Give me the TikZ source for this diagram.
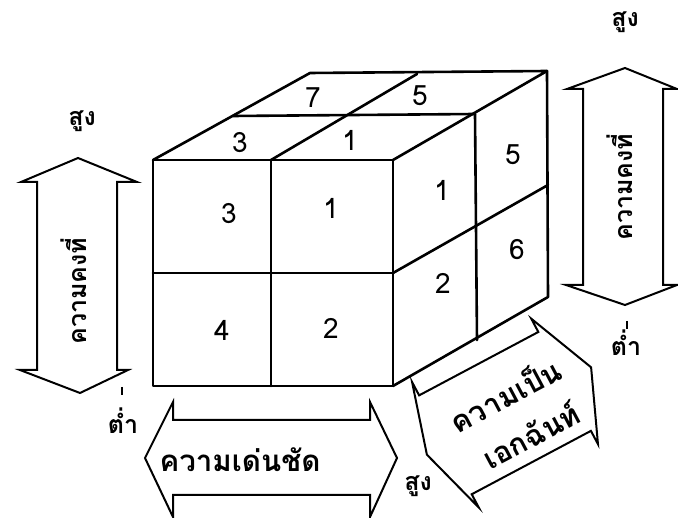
\documentclass[tikz,border=0pt]{standalone}
\usepackage{fontspec}
\newfontfamily\thaifont[Script=Thai]{Loma}

\begin{document}
\begin{tikzpicture}[x=1pt,y=-1pt,
	edge/.style={line width=2.6pt,line join=round,line cap=round},
	bigarrow/.style={line width=2pt,line join=miter},
	num/.style={font=\thaifont\fontsize{28}{29}\selectfont},
	axistext/.style={font=\thaifont\bfseries\fontsize{25}{26}\selectfont},
	widetext/.style={font=\thaifont\bfseries\fontsize{29.5}{30}\selectfont},
	endtext/.style={font=\thaifont\bfseries\fontsize{25}{26}\selectfont}]
	\useasboundingbox (0,0) rectangle (678,518);

	% front face
	\draw[edge] (153,160) rectangle (393,386);
	\draw[edge] (271,160) -- (271,386);
	\draw[edge] (153,273) -- (393,273);
	% top face
	\draw[edge] (153,160) -- (310,73) -- (547,71) -- (393,160);
	\draw[edge] (233,116) -- (475,114);
	\draw[edge] (271,160) -- (417,74);
	% right face
	\draw[edge] (547,71) -- (548,297) -- (393,386);
	\draw[edge] (475,114) -- (477,340);
	\draw[edge] (393,273) -- (548,185);

	% cell values
	\node[num] (f11) at (229,214) {3};
	\node[num] (f12) at (331,208) {1};
	\node[num] (f21) at (222,330) {4};
	\node[num] (f22) at (331,328) {2};
	\node[num] (t11) at (240,143) {3};
	\node[num] (t12) at (350,140) {1};
	\node[num] (t21) at (313,98) {7};
	\node[num] (t22) at (420,96) {5};
	\node[num] (r11) at (442,190) {1};
	\node[num] (r21) at (443,283) {2};
	\node[num] (r12) at (513,155) {5};
	\node[num] (r22) at (517,250) {6};

	% consistency (left)
	\draw[bigarrow] (78,158) -- (137,182) -- (117,182) -- (117,370) -- (128,370)
		-- (80,393) -- (20,370) -- (37,370) -- (37,182) -- (21,182) -- cycle;
	\node[axistext,rotate=90] (consL) at (74,291) {ความคงที่};
	\node[endtext] (hiL) at (82,121) {สูง};
	\node[endtext] (loL) at (123,421) {ต่ำ};
	\draw[line width=2pt] (122,387) -- (122,395);

	% consistency (right)
	\draw[bigarrow] (625,68) -- (677,89) -- (663,89) -- (663,285) -- (677,285)
		-- (625,305) -- (566,285) -- (583,285) -- (583,89) -- (567,89) -- cycle;
	\node[axistext,rotate=90] (consR) at (620,187) {ความคงที่};
	\node[endtext] (hiR) at (625,22) {สูง};
	\node[endtext] (loR) at (626,343) {ต่ำ};
	\draw[line width=2pt] (627,321) -- (627,329);

	% distinctiveness (bottom)
	\draw[bigarrow] (145,458) -- (173,402) -- (173,420) -- (370,420) -- (370,402)
		-- (397,458) -- (370,517) -- (370,495) -- (173,495) -- (173,517) -- cycle;
	\node[widetext] (dist) at (240,460) {ความเด่นชัด};
	\node[endtext] (hiB) at (418,486) {สูง};

	% consensus (diagonal)
	\begin{scope}[shift={(509,411)},rotate=28]
		\draw[bigarrow] (-93,0) -- (-72,-71) -- (-72,-56) -- (63,-56) -- (63,-71)
			-- (93,0) -- (63,71) -- (63,56) -- (-72,56) -- (-72,71) -- cycle;
		\node[widetext,rotate=28] (cons1) at (4,-17) {ความเป็น};
		\node[widetext,rotate=28] (cons2) at (8,31) {เอกฉันท์};
	\end{scope}
\end{tikzpicture}
\end{document}
